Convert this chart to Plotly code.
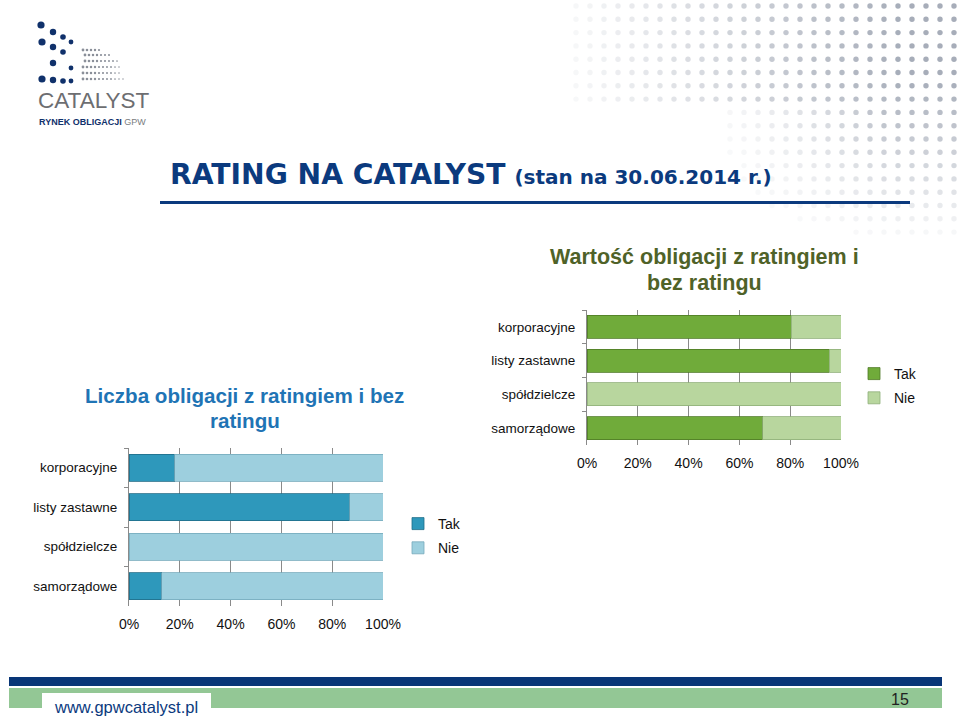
import plotly.graph_objects as go

# ---------------- data ----------------
categories = ["korporacyjne", "listy zastawne", "spółdzielcze", "samorządowe"]
# Wartość obligacji z ratingiem i bez ratingu (% of value)
value_tak = [80.5, 95.3, 0.0, 69.1]
value_nie = [19.5, 4.7, 100.0, 30.9]
# Liczba obligacji z ratingiem i bez ratingu (% of count)
count_tak = [18.1, 86.9, 0.0, 12.8]
count_nie = [81.9, 13.1, 100.0, 87.2]
series_names = ["Tak", "Nie"]
tick_values = [0, 20, 40, 60, 80, 100]
tick_labels = ["0%", "20%", "40%", "60%", "80%", "100%"]

W, H = 960, 725
def px(x):
    return x / W
def py(y):
    return 1 - y / H

GREEN_TAK, GREEN_NIE = "#70ab3a", "#b8d69e"
BLUE_TAK, BLUE_NIE = "#2e98bb", "#9dcfde"
NAVY = "#0b3a7e"
FONT = "Liberation Sans, Arial, sans-serif"

fig = go.Figure()

fig.add_trace(go.Bar(y=categories, x=value_tak, name=series_names[0], orientation="h",
                     marker=dict(color=GREEN_TAK, line=dict(color="#4f7a26", width=0.8)),
                     xaxis="x", yaxis="y", legend="legend", legendgroup="g_tak"))
fig.add_trace(go.Bar(y=categories, x=value_nie, name=series_names[1], orientation="h",
                     marker=dict(color=GREEN_NIE, line=dict(color="#8eaf78", width=0.8)),
                     xaxis="x", yaxis="y", legend="legend", legendgroup="g_nie"))
fig.add_trace(go.Bar(y=categories, x=count_tak, name=series_names[0], orientation="h",
                     marker=dict(color=BLUE_TAK, line=dict(color="#1f6d88", width=0.8)),
                     xaxis="x2", yaxis="y2", legend="legend2", legendgroup="b_tak"))
fig.add_trace(go.Bar(y=categories, x=count_nie, name=series_names[1], orientation="h",
                     marker=dict(color=BLUE_NIE, line=dict(color="#76aabb", width=0.8)),
                     xaxis="x2", yaxis="y2", legend="legend2", legendgroup="b_nie"))

xcommon = dict(range=[0, 100], tickvals=tick_values, ticktext=tick_labels, automargin=False,
               showgrid=True, gridcolor="#8a8a8a", gridwidth=1, zeroline=False,
               showline=False, ticks="", ticklabelstandoff=8,
               tickfont=dict(family=FONT, size=14, color="#111"), fixedrange=True)
ycommon = dict(type="category", autorange="reversed", showline=True, linecolor="#8a8a8a",
               linewidth=1, ticks="outside", tickson="boundaries", ticklen=4, automargin=False,
               tickcolor="#8a8a8a", showgrid=False, ticklabelstandoff=8,
               tickfont=dict(family=FONT, size=13.5, color="#111"), fixedrange=True)

legend_common = dict(xanchor="left", yanchor="top", traceorder="grouped",
                     bgcolor="rgba(0,0,0,0)", tracegroupgap=3,
                     font=dict(family=FONT, size=14, color="#111"), itemwidth=30)

fig.update_layout(
    template="none",
    width=W, height=H, autosize=False, margin=dict(l=0, r=0, t=0, b=0, pad=0),
    paper_bgcolor="white", plot_bgcolor="rgba(0,0,0,0)",
    barmode="stack", bargap=0.32,
    xaxis=dict(domain=[px(587), px(841)], anchor="y", **xcommon),
    yaxis=dict(domain=[py(445), py(310)], anchor="x", **ycommon),
    xaxis2=dict(domain=[px(129), px(383)], anchor="y2", **xcommon),
    yaxis2=dict(domain=[py(606), py(448)], anchor="x2", **ycommon),
    legend=dict(x=px(854), y=py(358), **legend_common),
    legend2=dict(x=px(398), y=py(508), **legend_common),
)

shapes = []
# decorative dot pattern (top right background)
for r in range(18):
    yc = 6 + r * 13.3
    for c in range(30):
        xc = 548 + c * 14
        if xc > 956:
            continue
        fx = min(1.0, max(0.0, (xc - 540) / 360))
        fy = min(1.0, max(0.0, (250 - yc) / 170))
        op = fx * fy * 0.8
        if r >= 8:
            op *= min(1.0, max(0.0, (xc - 680) / 200))
        if op < 0.06:
            continue
        shapes.append(dict(type="circle", xref="paper", yref="paper", layer="below",
                           x0=px(xc - 2.7), x1=px(xc + 2.7), y0=py(yc + 2.7), y1=py(yc - 2.7),
                           fillcolor="rgb(145,153,168)", opacity=round(op, 3),
                           line=dict(width=0)))

# logo dots (navy)
navy_dots = [(41, 25, 3.6), (53, 32, 3.2), (63, 37, 2.8), (71, 42, 2.4),
             (42, 42, 3.6), (53, 47, 3.2), (63, 52, 2.8),
             (53, 63, 3.2), (71, 68, 2.4),
             (42, 79, 3.6), (53, 80, 3.2), (63, 81, 2.8), (71, 81, 2.4)]
for (xc, yc, rr) in navy_dots:
    shapes.append(dict(type="circle", xref="paper", yref="paper",
                       x0=px(xc - rr), x1=px(xc + rr), y0=py(yc + rr), y1=py(yc - rr),
                       fillcolor="#10316b", line=dict(width=0)))
# logo dots (grey, small)
grey_rows = [(50, 83, 5), (55, 85, 7), (61, 85, 9), (67, 83, 10), (73, 83, 10), (79, 83, 11)]
for (yc, x0, n) in grey_rows:
    for k in range(n):
        xc = x0 + k * 4
        rr = max(0.7, 1.4 - k * 0.07)
        shapes.append(dict(type="circle", xref="paper", yref="paper",
                           x0=px(xc - rr), x1=px(xc + rr), y0=py(yc + rr), y1=py(yc - rr),
                           fillcolor="#8a8f99", line=dict(width=0)))

# title underline
shapes.append(dict(type="line", xref="paper", yref="paper", x0=px(160), x1=px(910),
                   y0=py(202.5), y1=py(202.5), line=dict(color=NAVY, width=3)))
# footer bands
shapes.append(dict(type="rect", xref="paper", yref="paper", x0=px(9), x1=px(942),
                   y0=py(686), y1=py(677), fillcolor="#083577", line=dict(width=0)))
shapes.append(dict(type="rect", xref="paper", yref="paper", x0=px(9), x1=px(942),
                   y0=py(708), y1=py(688), fillcolor="#93c795", line=dict(width=0)))
shapes.append(dict(type="rect", xref="paper", yref="paper", x0=px(42), x1=px(211),
                   y0=py(725), y1=py(693), fillcolor="white", line=dict(width=0)))
fig.update_layout(shapes=shapes)

ann = []
def text(x, y, s, size, color, anchor="center", family=FONT):
    ann.append(dict(x=px(x), y=py(y), xref="paper", yref="paper", text=s, showarrow=False,
                    xanchor=anchor, yanchor="middle",
                    font=dict(family=family, size=size, color=color)))

TITLE_FONT = "DejaVu Sans, Verdana, sans-serif"
text(168, 174, "<b>RATING NA CATALYST</b> <b><span style='font-size:20px'>(stan na 30.06.2014 r.)</span></b>",
     28.2, NAVY, anchor="left", family=TITLE_FONT)
text(704, 257, "<b>Wartość obligacji z ratingiem i</b>", 21.5, "#4f6228")
text(704, 283, "<b>bez ratingu</b>", 21.5, "#4f6228")
text(245, 395, "<b>Liczba obligacji z ratingiem i bez</b>", 20.6, "#1f74b5")
text(245, 420, "<b>ratingu</b>", 20.6, "#1f74b5")
# logo text
text(36, 100, "CATALYST", 22.5, "#6d6e71", anchor="left")
text(37, 122, "<b>RYNEK OBLIGACJI</b> <span style='color:#7a7c80'>GPW</span>", 9,
     "#10316b", anchor="left")
# footer text
text(52, 707, "www.gpwcatalyst.pl", 16.5, NAVY, anchor="left")
text(900, 699, "15", 16, "#222")
fig.update_layout(annotations=ann)

fig.write_html("out.html", config={"responsive": False},
               post_script="document.body.style.margin='0';document.body.style.overflow='hidden';")
